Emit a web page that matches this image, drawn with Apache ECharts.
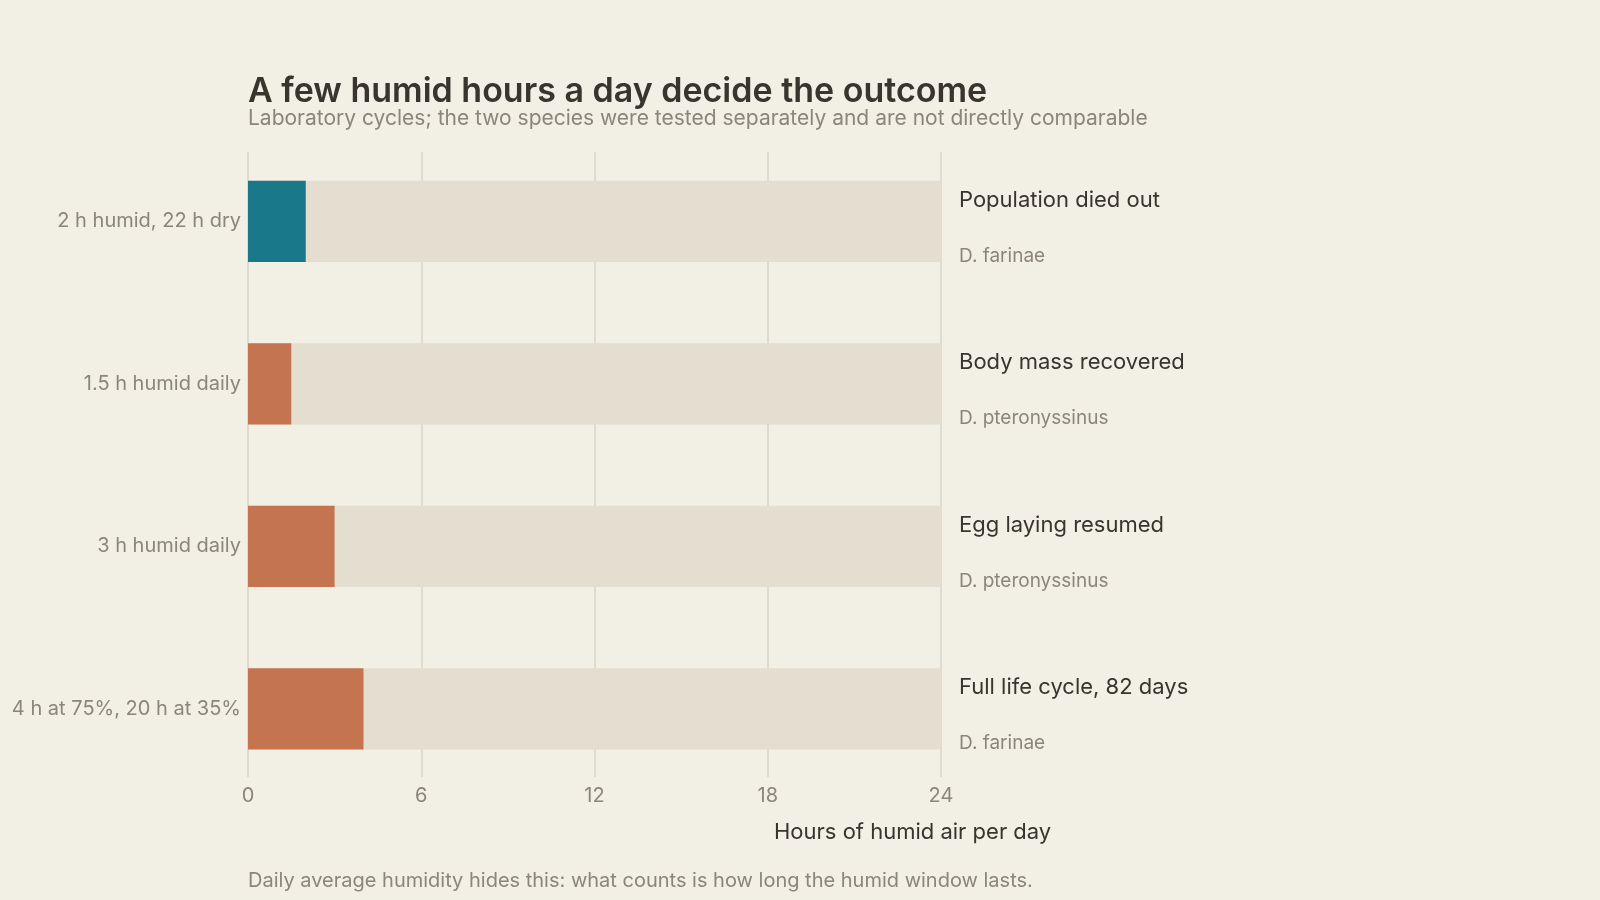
<!DOCTYPE html>
<html>
<head>
<meta charset="utf-8">
<script src="https://cdn.jsdelivr.net/npm/echarts@6/dist/echarts.min.js"></script>
<style>
  html, body { margin: 0; padding: 0; background: #f2efe4; }
  #chart { width: 1600px; height: 900px; }
</style>
</head>
<body>
<div id="chart"></div>
<script>
// data
var categories = ['2 h humid, 22 h dry', '1.5 h humid daily', '3 h humid daily', '4 h at 75%, 20 h at 35%'];
var humidHours = [2, 1.5, 3, 4];
var dayHours = [24, 24, 24, 24];
var outcomes = ['Population died out', 'Body mass recovered', 'Egg laying resumed', 'Full life cycle, 82 days'];
var species = ['D. farinae', 'D. pteronyssinus', 'D. pteronyssinus', 'D. farinae'];
var xTicks = [0, 6, 12, 18, 24];

(function () {
  var myChart = echarts.init(document.getElementById('chart'));
  var font = 'Inter, "Noto Sans", sans-serif';
  var dark = '#38342e';
  var grey = '#8b857b';

  var option = {
    backgroundColor: '#f2efe4',
    textStyle: { fontFamily: font },
    title: [
      {
        text: 'A few humid hours a day decide the outcome',
        left: 243, top: 70,
        textStyle: { fontSize: 34, fontWeight: 600, color: dark, fontFamily: font }
      },
      {
        text: 'Laboratory cycles; the two species were tested separately and are not directly comparable',
        left: 243, top: 103,
        textStyle: { fontSize: 21, fontWeight: 400, color: grey, fontFamily: font }
      },
      {
        text: 'Hours of humid air per day',
        left: 769, top: 816,
        textStyle: { fontSize: 22, fontWeight: 400, color: dark, fontFamily: font }
      },
      {
        text: 'Daily average humidity hides this: what counts is how long the humid window lasts.',
        left: 243, top: 866,
        textStyle: { fontSize: 20, fontWeight: 400, color: grey, fontFamily: font }
      }
    ],
    grid: [
      // bars
      { left: 248, right: 659, top: 140, height: 650 },
      // grid lines + ticks
      { left: 248, right: 659, top: 152, height: 625 }
    ],
    xAxis: [
      { type: 'value', gridIndex: 0, min: 0, max: 24, show: false },
      {
        type: 'value', gridIndex: 1, min: xTicks[0], max: xTicks[xTicks.length - 1], interval: 6,
        axisLine: { show: false },
        axisTick: { show: false },
        axisLabel: { color: grey, fontSize: 20, margin: 9, fontFamily: font },
        splitLine: { lineStyle: { color: '#d9d4c8', width: 1.5 } }
      }
    ],
    yAxis: [
      {
        type: 'category', gridIndex: 0, data: categories, inverse: true,
        axisLine: { show: false },
        axisTick: { show: false },
        axisLabel: { color: grey, fontSize: 20, margin: 7, padding: [4, 0, 0, 0], fontFamily: font }
      },
      { type: 'value', gridIndex: 1, show: false }
    ],
    series: [
      {
        name: 'day',
        type: 'bar',
        xAxisIndex: 0, yAxisIndex: 0,
        data: dayHours,
        barWidth: '50%',
        barGap: '-100%',
        silent: true,
        itemStyle: { color: '#e3decf' },
        label: {
          show: true,
          position: 'right',
          distance: 18,
          offset: [0, 7],
          formatter: function (p) {
            return '{t|' + outcomes[p.dataIndex] + '}\n{s|' + species[p.dataIndex] + '}';
          },
          rich: {
            t: { fontSize: 22, color: dark, lineHeight: 56, fontFamily: font },
            s: { fontSize: 19, color: grey, lineHeight: 56, fontFamily: font }
          }
        }
      },
      {
        name: 'humid',
        type: 'bar',
        xAxisIndex: 0, yAxisIndex: 0,
        data: humidHours,
        barWidth: '50%',
        itemStyle: {
          color: function (p) {
            return outcomes[p.dataIndex] === 'Population died out' ? '#19788a' : '#c4754f';
          }
        }
      }
    ]
  };

  myChart.setOption(option);
  window.addEventListener('resize', () => myChart.resize())
})();
</script>
</body>
</html>
